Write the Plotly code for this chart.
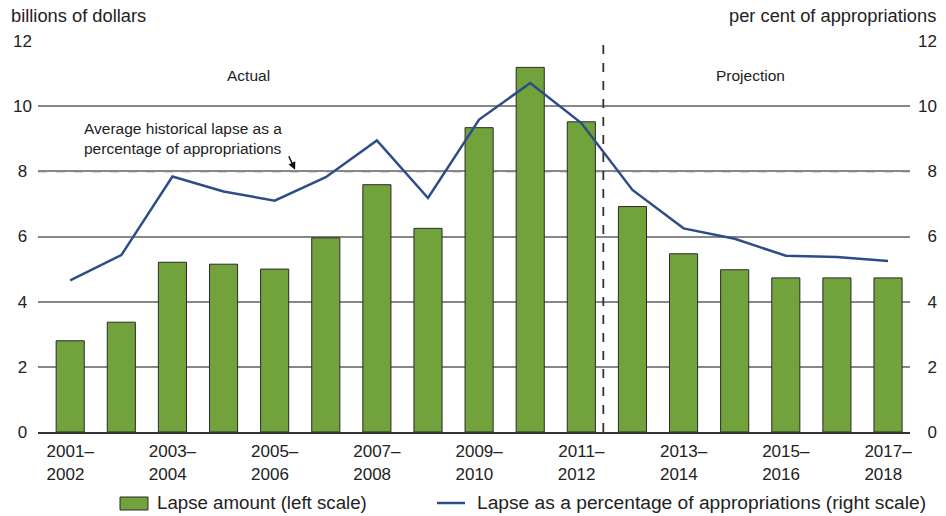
import plotly.graph_objects as go

# ---- data ----
categories = ["2001–2002", "2002–2003", "2003–2004", "2004–2005", "2005–2006",
              "2006–2007", "2007–2008", "2008–2009", "2009–2010", "2010–2011",
              "2011–2012", "2012–2013", "2013–2014", "2014–2015", "2015–2016",
              "2016–2017", "2017–2018"]
lapse_amount = [2.80, 3.37, 5.21, 5.15, 5.00, 5.96, 7.59, 6.25, 9.34, 11.19,
                9.52, 6.92, 5.47, 4.98, 4.73, 4.73, 4.73]
lapse_pct = [4.65, 5.43, 7.84, 7.38, 7.10, 7.82, 8.95, 7.18, 9.59, 10.71,
             9.48, 7.43, 6.25, 5.93, 5.41, 5.37, 5.25]
avg_historical_pct = 8.0
y_ticks = [0, 2, 4, 6, 8, 10, 12]
label_categories = categories[::2]
bar_name = "Lapse amount (left scale)"
line_name = "Lapse as a percentage of appropriations (right scale)"

FONT = "Liberation Sans, Arial, sans-serif"
GREEN = "#71a23b"
BLUE = "#2c4d87"
GRID = "#878787"
TXT = "#222222"

# plot-area geometry (pixels) used to place the hand-made legend
W, H = 946, 516
ML, MR, MT, MB = 38, 36, 41, 84
PW, PH = W - ML - MR, H - MT - MB


def px_x(p):
    return (p - ML) / PW


def px_y(p):
    return (H - MB - p) / PH


def xlabel(c):
    a, b = c.split("–")
    return f"{a}–<br>{b}\u2007"


fig = go.Figure()
fig.add_trace(go.Bar(
    x=categories, y=lapse_amount, name=bar_name,
    marker=dict(color=GREEN, line=dict(color="#2a2a2a", width=1)),
    width=0.55, yaxis="y"))
fig.add_trace(go.Scatter(
    x=categories, y=lapse_pct, name=line_name,
    mode="lines", line=dict(color=BLUE, width=2.5), yaxis="y2"))

# average historical line (dashed) and actual/projection separator
fig.add_shape(type="line", xref="paper", x0=0, x1=1, yref="y",
              y0=avg_historical_pct, y1=avg_historical_pct,
              line=dict(color="#666666", width=2, dash="dash"), layer="below")
fig.add_shape(type="line", xref="x", x0=10.43, x1=10.43, yref="y", y0=0, y1=12,
              line=dict(color="#333333", width=1.8, dash="dash"))

fig.update_layout(
    width=W, height=H,
    margin=dict(l=ML, r=MR, t=MT, b=MB, autoexpand=False),
    paper_bgcolor="white", plot_bgcolor="white",
    font=dict(family=FONT, size=17, color=TXT),
    showlegend=False,
    xaxis=dict(type="category", range=[-0.63, 16.43], automargin=False,
               tickmode="array", tickvals=label_categories,
               ticktext=[xlabel(c) for c in label_categories],
               showgrid=False, showline=True, linecolor="#333333", linewidth=2,
               ticks="", ticklabelstandoff=3, tickfont=dict(size=17)),
    yaxis=dict(range=[0, 12], tickmode="array", tickvals=y_ticks, automargin=False,
               ticktext=[(f"{v}\u2008" if v < 10 else str(v)) for v in y_ticks],
               showgrid=True, gridcolor=GRID, gridwidth=1.8,
               zeroline=False, ticks="", ticklabelstandoff=5, tickfont=dict(size=17)),
    yaxis2=dict(range=[0, 12], overlaying="y", side="right", tickmode="array",
                tickvals=y_ticks, automargin=False,
                ticktext=[(f"\u2007{v}" if v < 10 else str(v)) for v in y_ticks],
                showgrid=False, zeroline=False, ticks="", ticklabelstandoff=7,
                tickfont=dict(size=17)),
)

ann_font = dict(family=FONT, size=15.5, color=TXT)
title_font = dict(family=FONT, size=18.3, color=TXT)
fig.add_annotation(xref="paper", yref="paper", x=px_x(9), y=px_y(16), xanchor="left",
                   yanchor="middle", text="billions of dollars", showarrow=False,
                   font=title_font)
fig.add_annotation(xref="paper", yref="paper", x=px_x(938), y=px_y(16), xanchor="right",
                   yanchor="middle", text="per cent of appropriations", showarrow=False,
                   font=title_font)
fig.add_annotation(x=3.48, y=10.94, xref="x", yref="y", text="Actual",
                   showarrow=False, font=ann_font)
fig.add_annotation(x=13.3, y=10.94, xref="x", yref="y", text="Projection",
                   showarrow=False, font=ann_font)
fig.add_annotation(x=0.235, y=9.0, xref="x", yref="y", xanchor="left", yanchor="middle",
                   align="left", showarrow=False, font=ann_font,
                   text="Average historical lapse as a<br>percentage of appropriations")
fig.add_annotation(x=4.40, y=8.05, xref="x", yref="y", text="", showarrow=True,
                   ax=-7, ay=-15, arrowhead=2, arrowsize=1, arrowwidth=1.5,
                   arrowcolor="#111111")

# hand-made legend below the plot
leg_font = dict(family=FONT, size=18.7, color=TXT)
fig.add_shape(type="rect", xref="paper", yref="paper",
              x0=px_x(120), x1=px_x(148), y0=px_y(510), y1=px_y(497),
              fillcolor=GREEN, line=dict(color="#2a2a2a", width=1))
fig.add_annotation(xref="paper", yref="paper", x=px_x(155), y=px_y(503),
                   xanchor="left", yanchor="middle", text=bar_name,
                   showarrow=False, font=leg_font)
fig.add_shape(type="line", xref="paper", yref="paper",
              x0=px_x(437), x1=px_x(465), y0=px_y(503), y1=px_y(503),
              line=dict(color=BLUE, width=2.5))
fig.add_annotation(xref="paper", yref="paper", x=px_x(475), y=px_y(503),
                   xanchor="left", yanchor="middle", text=line_name,
                   showarrow=False, font=dict(family=FONT, size=19.2, color=TXT))

fig.write_html("out.html", config={"displayModeBar": False},
               post_script="document.body.style.margin='0';document.body.style.overflow='hidden';")
